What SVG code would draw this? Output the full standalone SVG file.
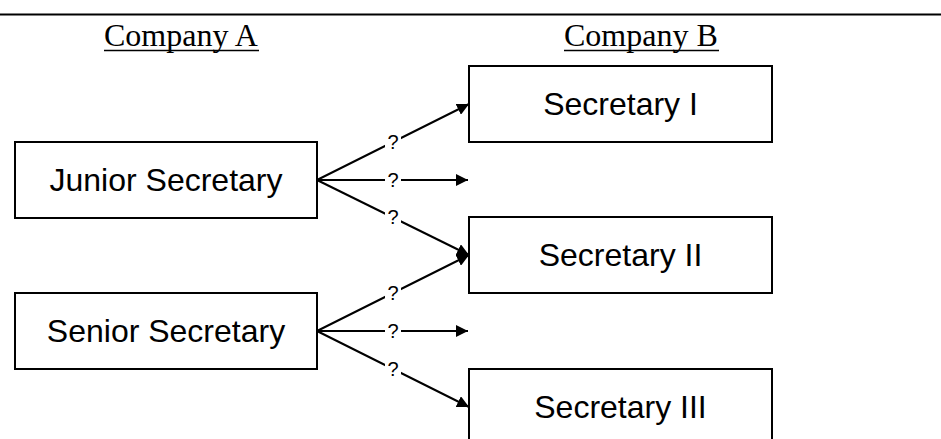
<svg xmlns="http://www.w3.org/2000/svg" width="941" height="439" viewBox="0 0 941 439">
<style>
.box{fill:#fff;stroke:#000;stroke-width:2}
.bt{font-family:"Liberation Sans",Arial,sans-serif;font-size:32px;fill:#000;text-anchor:middle}
.hd{font-family:"Liberation Serif","Times New Roman",serif;font-size:32px;fill:#000}
.ul{stroke:#000;stroke-width:1.6}
.cn{stroke:#000;stroke-width:2;fill:none;marker-end:url(#ah)}
.lb{fill:#fff}
.lt{font-family:"Liberation Sans",Arial,sans-serif;font-size:20px;fill:#000;text-anchor:middle}
</style>
<defs>
<marker id="ah" markerUnits="userSpaceOnUse" markerWidth="12" markerHeight="12" refX="12" refY="6" orient="auto">
<path d="M0,0 L12,6 L0,12 z" fill="#000"/>
</marker>
</defs>
<rect width="941" height="439" fill="#fff"/>
<line x1="0" y1="14.5" x2="941" y2="14.5" stroke="#000" stroke-width="2"/>
<g id="headingA">
<text class="hd" x="104" y="46">Company A</text>
<line class="ul" x1="104" y1="50.5" x2="259" y2="50.5"/>
</g>
<g id="headingB">
<text class="hd" x="564" y="46">Company B</text>
<line class="ul" x1="564" y1="50.5" x2="719" y2="50.5"/>
</g>
<g id="connectors">
<line class="cn" x1="317" y1="180" x2="469" y2="104"/>
<line class="cn" x1="317" y1="180" x2="468" y2="180"/>
<line class="cn" x1="317" y1="180" x2="469" y2="255"/>
<line class="cn" x1="317" y1="331" x2="469" y2="255"/>
<line class="cn" x1="317" y1="331" x2="468" y2="331"/>
<line class="cn" x1="317" y1="331" x2="469" y2="407"/>
<rect class="lb" x="385" y="133" width="16" height="18"/>
<rect class="lb" x="385" y="171" width="16" height="18"/>
<rect class="lb" x="385" y="208" width="16" height="18"/>
<rect class="lb" x="385" y="284" width="16" height="18"/>
<rect class="lb" x="385" y="322" width="16" height="18"/>
<rect class="lb" x="385" y="360" width="16" height="18"/>
<text class="lt" x="393" y="149">?</text>
<text class="lt" x="393" y="187">?</text>
<text class="lt" x="393" y="224">?</text>
<text class="lt" x="393" y="300">?</text>
<text class="lt" x="393" y="338">?</text>
<text class="lt" x="393" y="376">?</text>
</g>
<g id="junior">
<rect class="box" x="15" y="142" width="302" height="76"/>
<text class="bt" x="166" y="191">Junior Secretary</text>
</g>
<g id="senior">
<rect class="box" x="15" y="293" width="302" height="76"/>
<text class="bt" x="166" y="342">Senior Secretary</text>
</g>
<g id="sec1">
<rect class="box" x="469" y="66" width="303" height="76"/>
<text class="bt" x="620.5" y="115">Secretary I</text>
</g>
<g id="sec2">
<rect class="box" x="469" y="217" width="303" height="76"/>
<text class="bt" x="620.5" y="266">Secretary II</text>
</g>
<g id="sec3">
<rect class="box" x="469" y="369" width="303" height="80"/>
<text class="bt" x="620.5" y="418">Secretary III</text>
</g>
</svg>
